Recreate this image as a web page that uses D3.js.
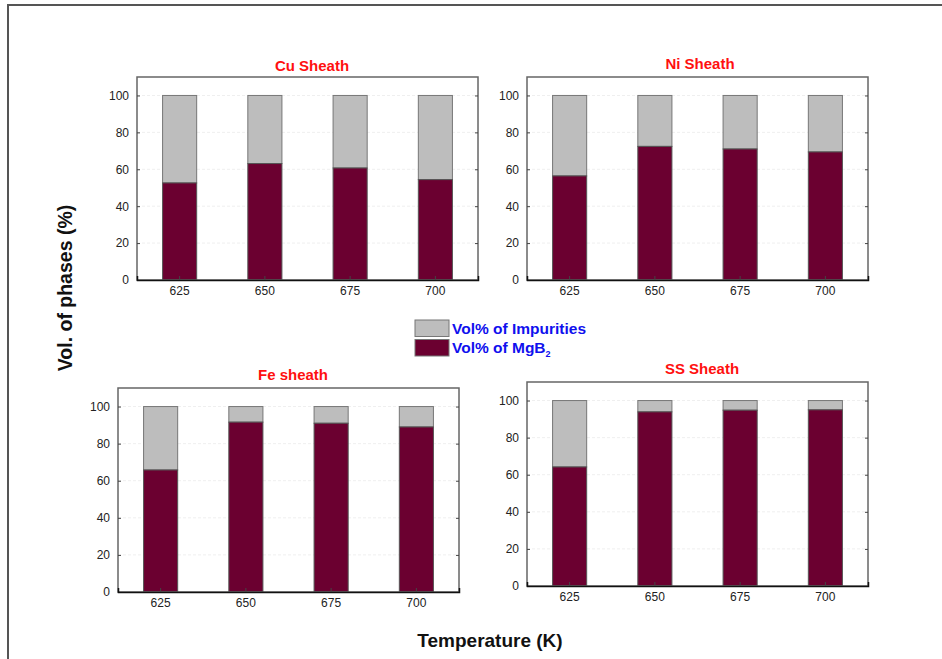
<!DOCTYPE html>
<html lang="en">
<head>
<meta charset="utf-8">
<title>Vol. of phases</title>
<script src="https://cdn.jsdelivr.net/npm/d3@7"></script>
<style>
  * { margin: 0; padding: 0; }
  body { background: #fff; }
  svg text { font-family: "Liberation Sans", Arial, sans-serif; }
</style>
</head>
<body>
<div id="chart"></div>
<script>
// data
var temps = ["625", "650", "675", "700"];
var sheaths = ["Cu Sheath", "Ni Sheath", "Fe sheath", "SS Sheath"];
var mgb2Cu = [52.6, 63.1, 60.7, 54.4];
var mgb2Ni = [56.4, 72.4, 71.0, 69.4];
var mgb2Fe = [65.8, 91.6, 91.0, 89.0];
var mgb2SS = [64.2, 93.9, 94.8, 95.0];
var yTicks = [0, 20, 40, 60, 80, 100];

var W = 942, H = 659;
var mgColor = "#6b0030", impColor = "#bdbdbd";

var svg = d3.select("#chart").append("svg")
    .attr("width", W).attr("height", H);

// outer frame (runs off the right/bottom edge)
svg.append("path")
    .attr("d", "M8," + (H + 5) + "V5H" + (W + 5))
    .attr("fill", "none").attr("stroke", "#555").attr("stroke-width", 2);

// panel boxes: x0, x1, top, bottom (plot area), title baseline
var panels = [
  { name: sheaths[0], vals: mgb2Cu, x0: 137, x1: 478, y0: 77, y1: 280, ty: 71, tx: 312 },
  { name: sheaths[1], vals: mgb2Ni, x0: 527, x1: 868, y0: 77, y1: 280, ty: 69, tx: 700 },
  { name: sheaths[2], vals: mgb2Fe, x0: 118, x1: 459, y0: 388, y1: 592, ty: 380, tx: 293 },
  { name: sheaths[3], vals: mgb2SS, x0: 527, x1: 868, y0: 382, y1: 586, ty: 374, tx: 702 }
];

panels.forEach(function(p) {
  var g = svg.append("g").attr("transform", "translate(" + p.x0 + "," + p.y0 + ")");
  var w = p.x1 - p.x0, h = p.y1 - p.y0;

  var x = d3.scaleBand().domain(temps).range([0, w]).paddingInner(0.6).paddingOuter(0.3);
  var y = d3.scaleLinear().domain([0, 110]).range([h, 0]);

  // faint grid
  g.selectAll("line.grid").data(yTicks.slice(1)).join("line")
      .attr("class", "grid")
      .attr("x1", 0).attr("x2", w)
      .attr("y1", function(d) { return y(d); }).attr("y2", function(d) { return y(d); })
      .attr("stroke", "#efefef").attr("stroke-dasharray", "3,2");

  var rows = temps.map(function(t, i) { return { t: t, mg: p.vals[i] }; });

  // impurities part (top of stack)
  g.selectAll("rect.imp").data(rows).join("rect")
      .attr("class", "imp")
      .attr("x", function(d) { return x(d.t); })
      .attr("width", x.bandwidth())
      .attr("y", y(100))
      .attr("height", function(d) { return y(d.mg) - y(100); })
      .attr("fill", impColor).attr("stroke", "#777").attr("stroke-width", 1);

  // MgB2 part
  g.selectAll("rect.mg").data(rows).join("rect")
      .attr("class", "mg")
      .attr("x", function(d) { return x(d.t); })
      .attr("width", x.bandwidth())
      .attr("y", function(d) { return y(d.mg); })
      .attr("height", function(d) { return h - y(d.mg); })
      .attr("fill", mgColor).attr("stroke", "#555").attr("stroke-width", 1);

  // frame
  g.append("rect").attr("width", w).attr("height", h)
      .attr("fill", "none").attr("stroke", "#666").attr("stroke-width", 1.5);

  // y axis, ticks pointing inward
  var ya = g.append("g").call(d3.axisLeft(y).tickValues(yTicks).tickSize(-3).tickPadding(8));
  ya.select(".domain").remove();
  ya.selectAll("line").attr("stroke", "#444");
  ya.selectAll("text").attr("font-size", 12).attr("fill", "#222");

  // right side mirrored ticks
  var yr = g.append("g").attr("transform", "translate(" + w + ",0)")
      .call(d3.axisRight(y).tickValues(yTicks).tickSize(-3).tickFormat(""));
  yr.select(".domain").remove();
  yr.selectAll("line").attr("stroke", "#444");

  // x axis
  var xa = g.append("g").attr("transform", "translate(0," + h + ")")
      .call(d3.axisBottom(x).tickSize(-4).tickPadding(6));
  xa.select(".domain").attr("stroke", "#111").attr("stroke-width", 1.5);
  xa.selectAll("line").attr("stroke", "#444");
  xa.selectAll("text").attr("font-size", 12).attr("fill", "#222");

  // title
  svg.append("text")
      .attr("x", p.tx)
      .attr("y", p.ty)
      .attr("text-anchor", "middle")
      .attr("font-size", 15).attr("font-weight", "bold").attr("fill", "#ff1010")
      .text(p.name);
});

// legend
var legend = [
  { label: "Vol% of Impurities", color: impColor, sub: null },
  { label: "Vol% of MgB", color: mgColor, sub: "2" }
];
var lg = svg.append("g").attr("transform", "translate(415,320)");
legend.forEach(function(d, i) {
  lg.append("rect").attr("x", 0).attr("y", i * 19.5).attr("width", 34).attr("height", 16.5)
      .attr("fill", d.color).attr("stroke", "#777").attr("stroke-width", 1);
  var t = lg.append("text").attr("x", 37).attr("y", i * 19.5 + 13.5)
      .attr("font-size", 15.5).attr("font-weight", "bold").attr("fill", "#1010ee")
      .text(d.label);
  if (d.sub) {
    t.append("tspan").attr("font-size", 9).attr("dy", 4).text(d.sub);
  }
});

// axis titles
svg.append("text")
    .attr("transform", "translate(72,288) rotate(-90)")
    .attr("text-anchor", "middle")
    .attr("font-size", 19.5).attr("font-weight", "bold").attr("fill", "#111")
    .text("Vol. of phases (%)");

svg.append("text")
    .attr("x", 490).attr("y", 647)
    .attr("text-anchor", "middle")
    .attr("font-size", 19).attr("font-weight", "bold").attr("fill", "#111")
    .text("Temperature (K)");
</script>
</body>
</html>
